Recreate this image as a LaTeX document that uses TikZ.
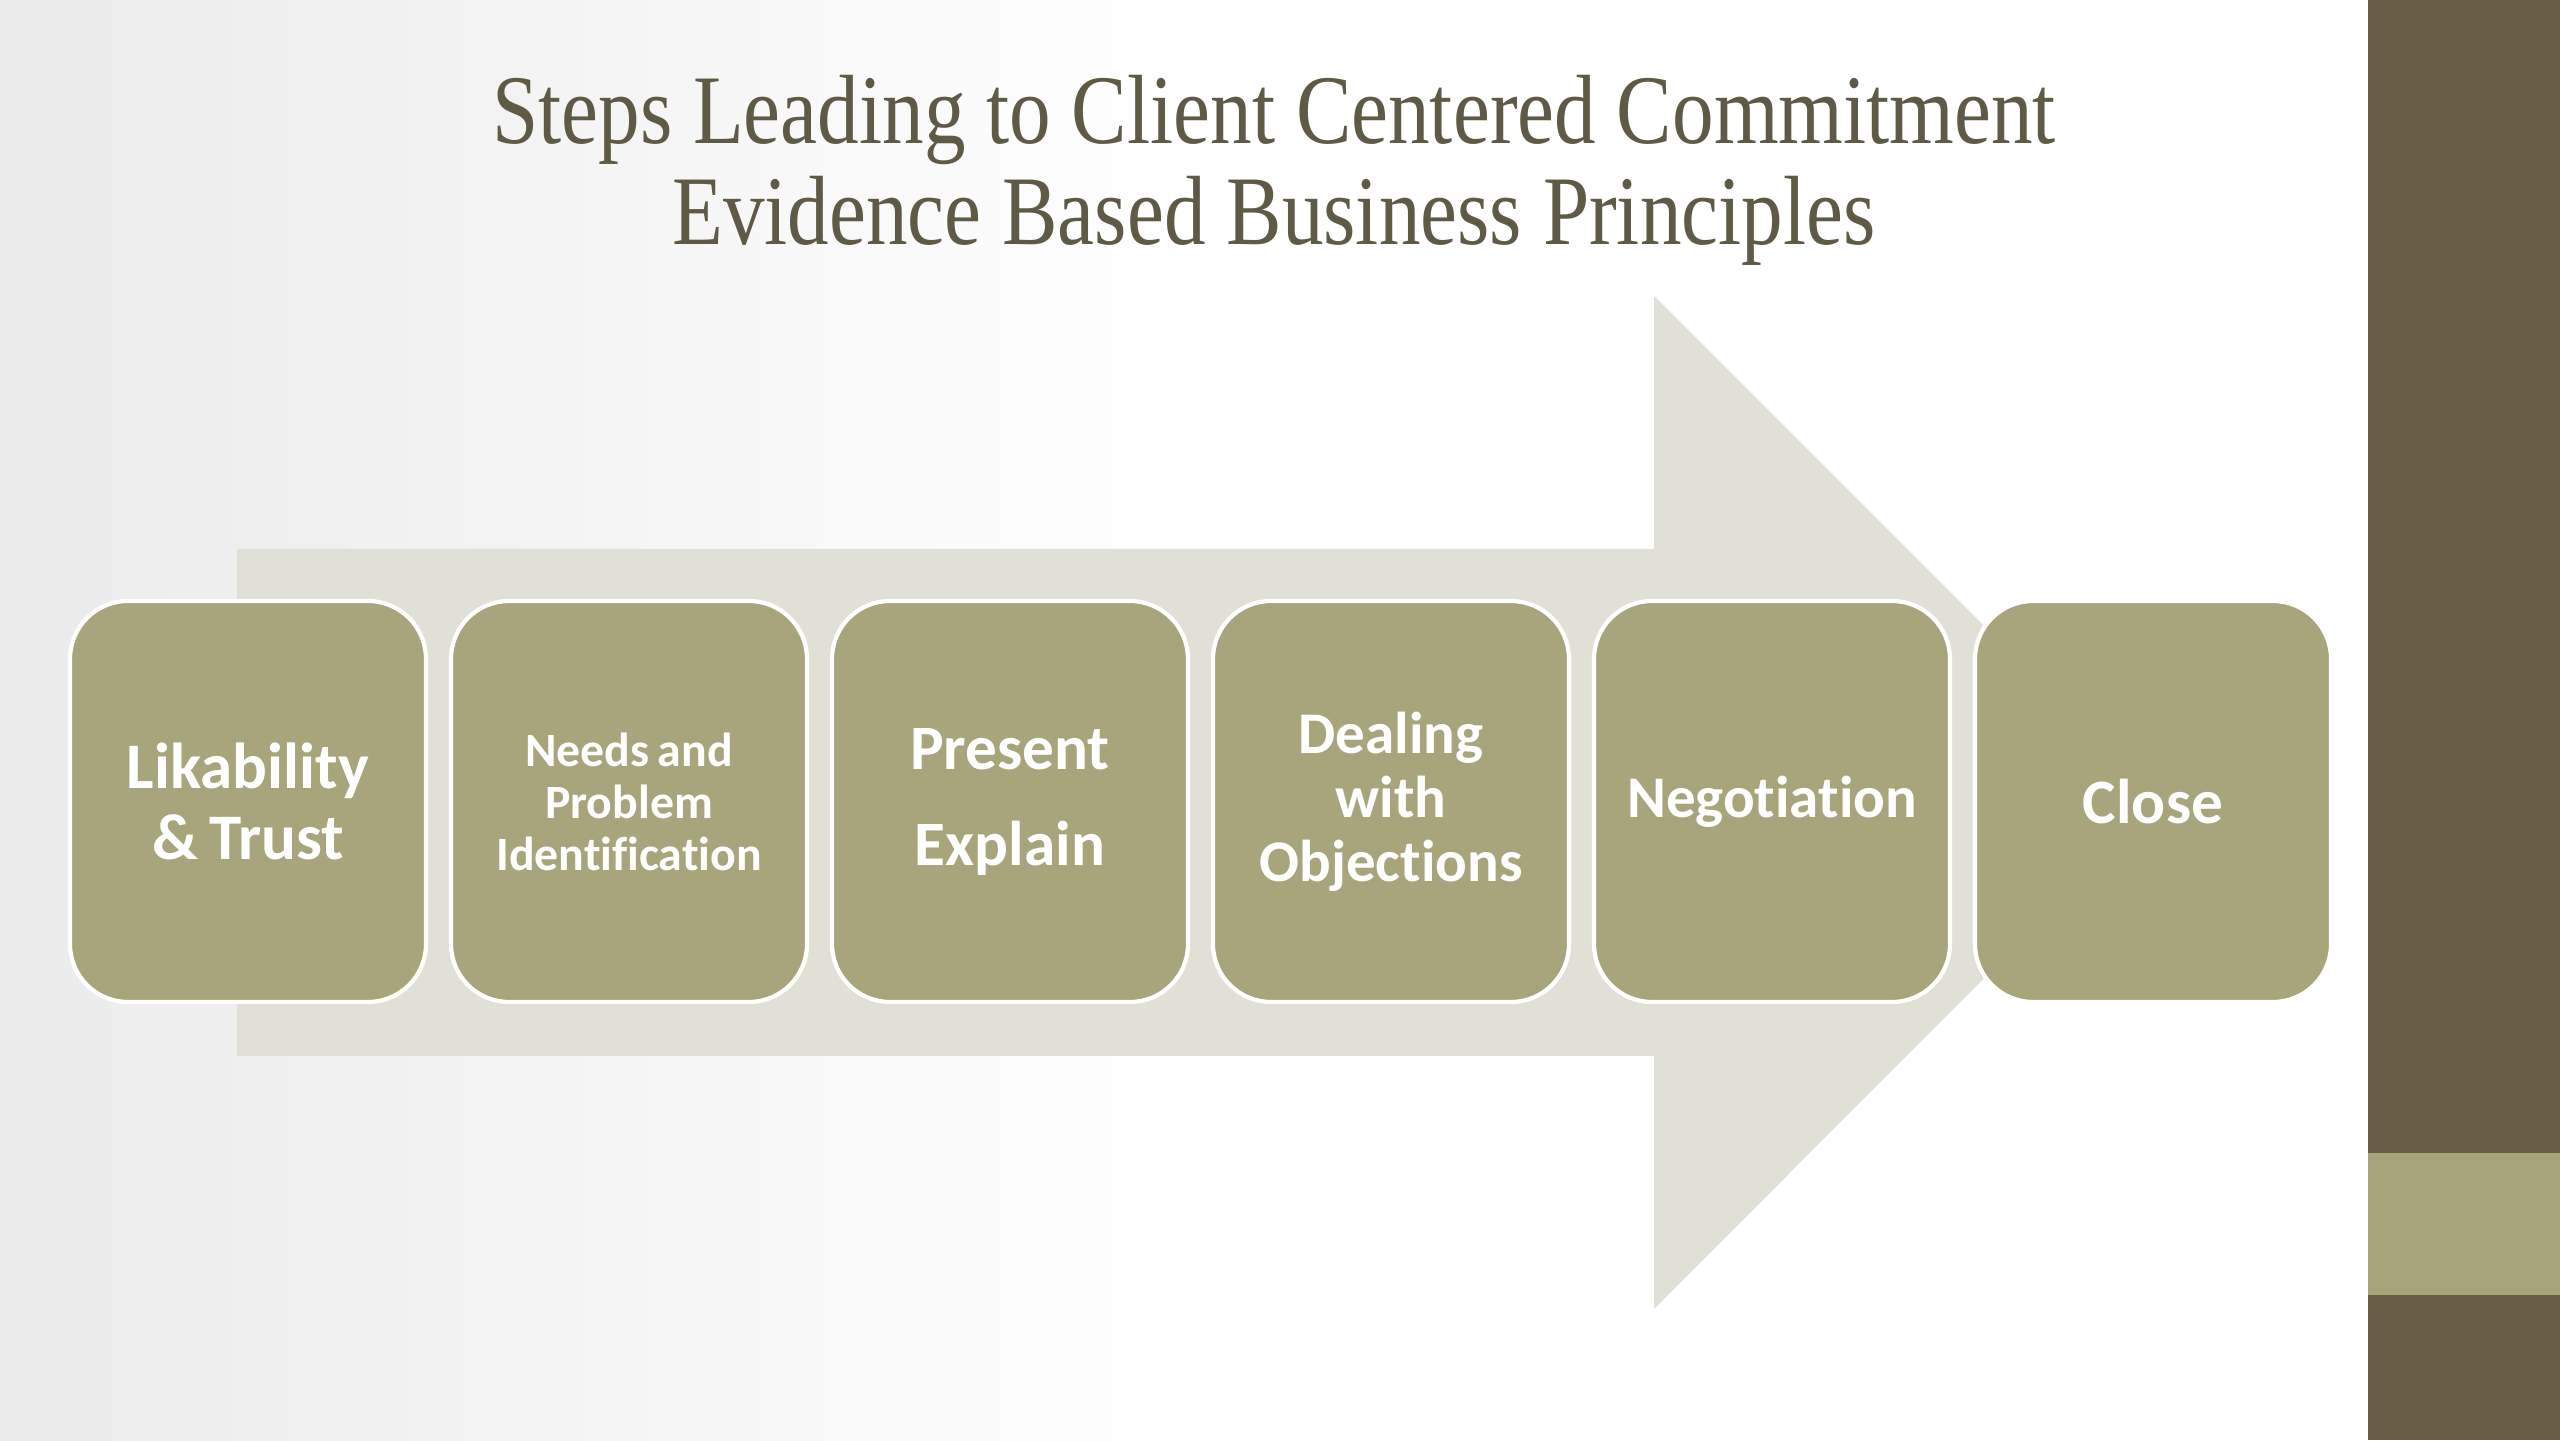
\documentclass[tikz,border=0pt]{standalone}
\usepackage{fontspec}
\setmainfont[Ligatures=NoCommon]{Carlito}
\newfontfamily\titlefont[FakeStretch=0.845]{Liberation Serif}
\usetikzlibrary{positioning}
\definecolor{slideband}{HTML}{675E48}
\definecolor{olive}{HTML}{A8A47C}
\definecolor{arrowgray}{HTML}{E0E0D6}
\definecolor{titlebrown}{HTML}{5F5A45}
\tikzset{
  stepbox/.style={draw=white, line width=1.2pt, fill=olive, rounded corners=0.58cm,
                  minimum width=3.56cm, minimum height=4.01cm, inner sep=2pt, outer sep=0pt,
                  text width=3.3cm, align=center, text=white,
                  execute at begin node={\spaceskip=0.17em\relax}},
  titleline/.style={text=titlebrown, font=\titlefont\fontsize{28}{30}\selectfont, anchor=base}}

\begin{document}
\begin{tikzpicture}
  \useasboundingbox (0,0) rectangle (25.6,14.4);
  % slide background and side band
  \fill[white] (0,0) rectangle (23.68,14.4);
  \begin{scope}
    \clip (0,0) rectangle (23.68,14.4);
    \shade[left color=black!12, right color=white] (-6,0) rectangle (12,14.4);
  \end{scope}
  \fill[slideband] (23.68,0) rectangle (25.6,14.4);
  \fill[olive] (23.68,1.45) rectangle (25.6,2.87);
  % big arrow behind the steps
  \fill[arrowgray] (2.37,8.91) -- (16.54,8.91) -- (16.54,11.44) -- (21.60,6.38)
    -- (16.54,1.31) -- (16.54,3.84) -- (2.37,3.84) -- cycle;
  \node[titleline] (title1) at (12.74,12.96) {Steps Leading to Client Centered Commitment};
  \node[titleline] (title2) at (12.74,11.95) {Evidence Based Business Principles};
  % steps
  \node[stepbox, font=\bfseries\fontsize{18.5}{20}\selectfont] (trust) at (2.48,6.385)
    {Likability\\\& Trust};
  \node[stepbox, right=0.25cm of trust, font=\bfseries\fontsize{13.6}{14.8}\selectfont] (needs)
    {Needs and\\Problem\\Identification};
  \node[stepbox, right=0.25cm of needs, font=\bfseries\fontsize{18}{27.3}\selectfont] (present)
    {Present\\Explain};
  \node[stepbox, right=0.25cm of present, font=\bfseries\fontsize{16.8}{18.2}\selectfont] (objections)
    {Dealing\\with\\Objections};
  \node[stepbox, right=0.25cm of objections, font=\bfseries\fontsize{16.8}{18.2}\selectfont] (negotiation)
    {Negotiation};
  \node[stepbox, right=0.25cm of negotiation, font=\bfseries\fontsize{18}{20}\selectfont] (close)
    {Close};
\end{tikzpicture}
\end{document}
